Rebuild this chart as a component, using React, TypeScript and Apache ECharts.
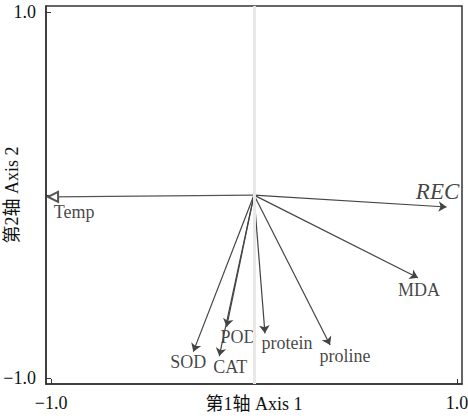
import React, { useEffect, useRef } from "react";
import * as echarts from "echarts";

// Variable loadings on the first two ordination axes
const variables = ["Temp", "REC", "MDA", "SOD", "CAT", "POD", "protein", "proline"];
const axis1 = [-0.99, 0.949, 0.808, -0.299, -0.171, -0.135, 0.054, 0.375];
const axis2 = [-0.01, -0.065, -0.452, -0.856, -0.88, -0.72, -0.756, -0.82];
const tickValues = [-1, 0, 1];
const tickLabels = [-1, 1];

// label placement (pixel offsets from the arrow tip)
const labelOffsets: Record<string, [number, number]> = {
  Temp: [21, 15],
  REC: [-9, -15],
  MDA: [1, 12],
  SOD: [-5, 10],
  CAT: [11, 11],
  POD: [12, 10],
  protein: [22, 10],
  proline: [15, 11],
};

const FONT = "'Liberation Serif', 'Times New Roman', 'Noto Sans CJK SC', serif";

export default function App() {
  const ref = useRef<HTMLDivElement>(null);
  useEffect(() => {
    if (!ref.current) return;
    const chart = echarts.init(ref.current, undefined, { renderer: "svg" });
    const fmt = (v: number) => (v < 0 ? "\u2212" : "") + Math.abs(v).toFixed(1);
    const arrowData = variables.map((name, i) => ({
      name,
      coords: [
        [0, 0],
        [axis1[i], axis2[i]],
      ],
    }));
    chart.setOption({
      animation: false,
      grid: {
        left: 46,
        right: 6,
        top: 6,
        bottom: 34,
        containLabel: false,
        outerBoundsMode: "none",
        show: true,
        borderColor: "#333",
        borderWidth: 1.5,
        backgroundColor: "transparent",
      },
      xAxis: {
        type: "value",
        min: -1.025,
        max: 1.025,
        name: "第1轴 Axis 1",
        nameLocation: "middle",
        nameGap: 11,
        nameMoveOverlap: false,
        nameTextStyle: { fontFamily: FONT, fontSize: 18, color: "#111", verticalAlign: "top" },
        axisLine: { show: true, onZero: false, lineStyle: { color: "#333", width: 1.5 } },
        axisTick: { show: true, inside: true, length: 5, customValues: tickValues, lineStyle: { color: "#333" } },
        axisLabel: {
          customValues: tickLabels,
          formatter: fmt,
          fontFamily: FONT,
          fontSize: 18,
          color: "#111",
          margin: 10,
        },
        splitLine: { show: false },
      },
      yAxis: {
        type: "value",
        min: -1.033,
        max: 1.034,
        name: "第2轴 Axis 2",
        nameLocation: "middle",
        nameGap: 25,
        nameMoveOverlap: false,
        nameTextStyle: { fontFamily: FONT, fontSize: 18, color: "#111" },
        axisLine: { show: true, onZero: false, lineStyle: { color: "#333", width: 1.5 } },
        axisTick: { show: true, inside: true, length: 5, customValues: tickValues, lineStyle: { color: "#333" } },
        axisLabel: {
          customValues: tickLabels,
          formatter: fmt,
          fontFamily: FONT,
          fontSize: 18,
          color: "#111",
          margin: 10,
        },
        splitLine: { show: false },
      },
      series: [
        {
          type: "scatter",
          silent: true,
          symbolSize: 0,
          data: variables.map((name, i) => ({
            name,
            value: [axis1[i], axis2[i]],
            label: {
              show: true,
              position: "inside",
              offset: labelOffsets[name],
              formatter: name,
              fontFamily: FONT,
              fontSize: name === "REC" ? 23 : 18,
              fontStyle: name === "REC" ? "italic" : "normal",
              color: "#111",
              align: "center",
              verticalAlign: "middle",
            },
          })),
          markLine: {
            silent: true,
            symbol: "none",
            label: { show: false },
            lineStyle: { color: "#e8e8e8", width: 3, type: "solid" },
            data: [{ xAxis: 0 }],
          },
          z: 1,
        },
        {
          type: "lines",
          coordinateSystem: "cartesian2d",
          silent: true,
          symbol: ["none", "emptyTriangle"],
          symbolSize: [8, 10],
          lineStyle: { color: "#555", width: 1.2, opacity: 1 },
          data: arrowData.filter((d) => d.name === "Temp"),
          z: 3,
        },
        {
          type: "lines",
          coordinateSystem: "cartesian2d",
          silent: true,
          symbol: ["none", "arrow"],
          symbolSize: [5, 8],
          lineStyle: { color: "#444", width: 1.2, opacity: 1 },
          data: arrowData.filter((d) => d.name !== "Temp"),
          z: 3,
        },
      ],
    });
    return () => chart.dispose();
  }, []);
  return <div ref={ref} style={{ width: 468, height: 418, position: "absolute", left: 0, top: 0 }} />;
}
